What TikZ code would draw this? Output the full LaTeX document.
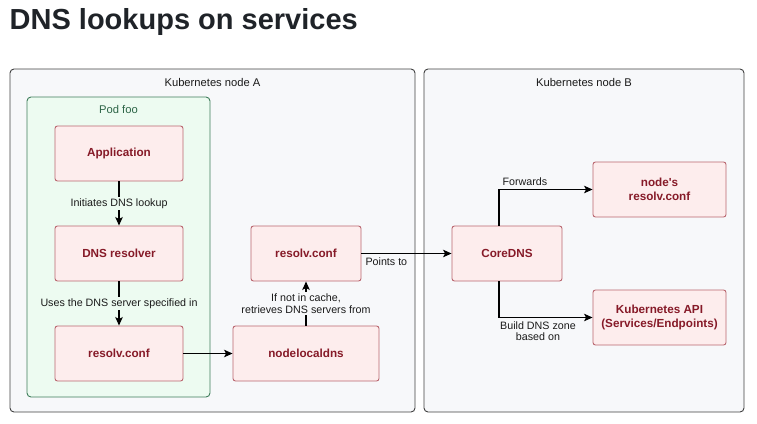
\documentclass[tikz,border=0pt]{standalone}
\usepackage{fontspec}
\setmainfont{Liberation Sans}[Ligatures=TeXOff]
\usetikzlibrary{arrows.meta}
\definecolor{pinkfill}{HTML}{FDEDED}
\definecolor{pinkdraw}{HTML}{B9666F}
\definecolor{pinktext}{HTML}{861A28}
\definecolor{grayfill}{HTML}{F7F8FA}
\definecolor{graydraw}{HTML}{404040}
\definecolor{greenfill}{HTML}{EDFBF1}
\definecolor{greendraw}{HTML}{3F7D5B}
\definecolor{greentext}{HTML}{2C6446}
\definecolor{titlecol}{HTML}{1F2328}
\definecolor{labelcol}{HTML}{1A1A1A}
\tikzset{
  container/.style={draw=graydraw, fill=grayfill, line width=0.9pt, rounded corners=4pt, inner sep=0pt},
  podbox/.style={draw=greendraw, fill=greenfill, line width=0.9pt, rounded corners=4pt, inner sep=0pt},
  stepbox/.style={draw=pinkdraw, fill=pinkfill, line width=0.9pt, rounded corners=2.5pt, inner sep=0pt,
    minimum height=55pt, text=pinktext, font=\fontsize{11.7}{13.5}\selectfont\bfseries, align=center},
  ctitle/.style={text=labelcol, font=\fontsize{11.2}{13}\selectfont},
  elabel/.style={text=labelcol, font=\fontsize{10.7}{11.5}\selectfont, align=center, inner sep=1.5pt},
  conn/.style={draw=black, line width=1.2pt, -{Stealth[length=8.5pt,width=7.5pt,inset=2pt]}},
}
\begin{document}
\begin{tikzpicture}[x=1pt,y=-1pt]
\useasboundingbox (0,0) rectangle (757,423);
% title
\node[anchor=base west, inner sep=0pt, text=titlecol, font=\fontsize{29}{32}\selectfont\bfseries] (title) at (9.5,29) {DNS lookups on services};
% containers
\node[container, minimum width=405pt, minimum height=343pt] (nodeA) at (212.5,240.5) {};
\node[container, minimum width=320pt, minimum height=343pt] (nodeB) at (584,240.5) {};
\node[ctitle] (nodeAlabel) at (212.5,82) {Kubernetes node A};
\node[ctitle] (nodeBlabel) at (584,82) {Kubernetes node B};
\node[podbox, minimum width=183pt, minimum height=300pt] (pod) at (118.5,247) {};
\node[ctitle, text=greentext] (podlabel) at (118.5,109) {Pod foo};
% steps
\node[stepbox, minimum width=128pt] (app) at (119,153.5) {Application};
\node[stepbox, minimum width=128pt] (res) at (119,253.5) {DNS resolver};
\node[stepbox, minimum width=128pt] (podconf) at (119,353.5) {resolv.conf};
\node[stepbox, minimum width=146pt] (nld) at (306,353.5) {nodelocaldns};
\node[stepbox, minimum width=110pt] (nodeconf) at (306,253.5) {resolv.conf};
\node[stepbox, minimum width=110pt] (core) at (507,253.5) {CoreDNS};
\node[stepbox, minimum width=133pt] (nrc) at (659.5,189.5) {node's\\resolv.conf};
\node[stepbox, minimum width=133pt] (api) at (659.5,317.5) {Kubernetes API\\(Services/Endpoints)};
% connectors
\draw[conn] (app) -- node[elabel, fill=greenfill] {Initiates DNS lookup} (res);
\draw[conn] (res) -- node[elabel, fill=greenfill] {Uses the DNS server specified in} (podconf);
\draw[conn] (podconf) -- (nld);
\draw[conn] (nld) -- node[elabel, fill=grayfill] {If not in cache,\\retrieves DNS servers from} (nodeconf);
\draw[conn] (nodeconf) -- node[pos=0, elabel, anchor=north west, inner sep=3.5pt] {Points to} (core);
\coordinate (fwdturn) at (499,189.5);
\coordinate (apiturn) at (499,317.5);
\draw[conn] (core.north -| fwdturn) -- (fwdturn) -- node[pos=0, elabel, anchor=south west, inner sep=3pt] {Forwards} (nrc.west);
\draw[conn] (core.south -| apiturn) -- (apiturn) -- (api.west);
\node[elabel, anchor=north] (apilabel) at (538,320) {Build DNS zone\\based on};
\end{tikzpicture}
\end{document}
